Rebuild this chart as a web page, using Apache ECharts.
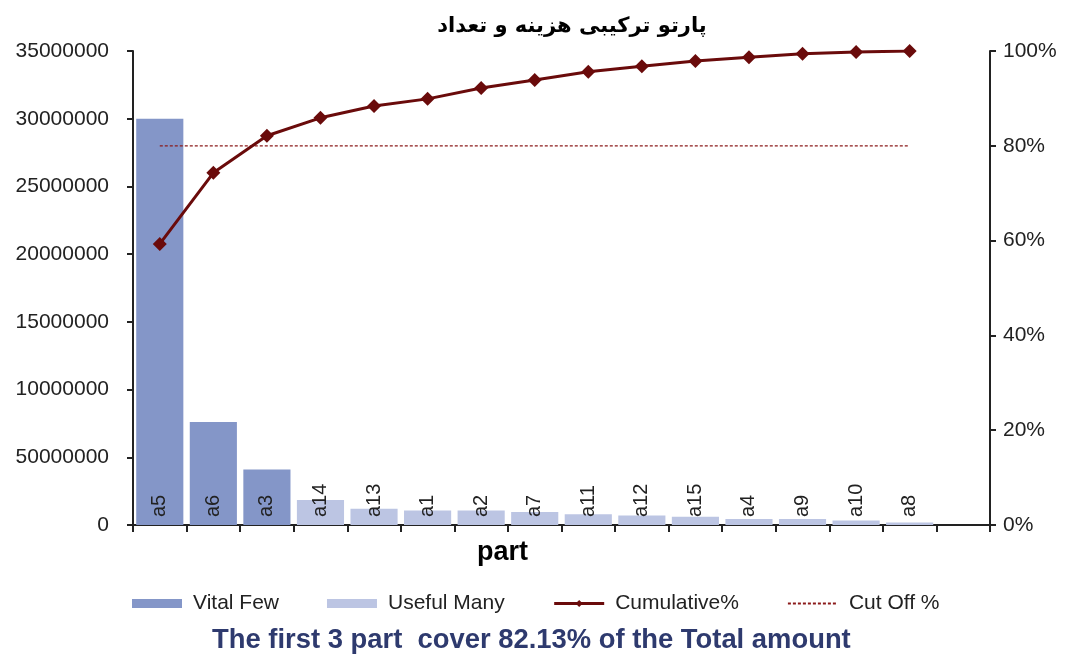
<!DOCTYPE html>
<html>
<head>
<meta charset="utf-8">
<script src="https://cdn.jsdelivr.net/npm/echarts@6/dist/echarts.min.js"></script>
<style>
html,body{margin:0;padding:0;background:#fff;}
#c{width:1071px;height:655px;}
</style>
</head>
<body>
<div id="c"></div>
<script>
// ---- data ----
const categories = ['a5','a6','a3','a14','a13','a1','a2','a7','a11','a12','a15','a4','a9','a10','a8',''];
const vitalFew   = [30000000, 7600000, 4100000, null, null, null, null, null, null, null, null, null, null, null, null, null];
const usefulMany = [null, null, null, 1850000, 1200000, 1070000, 1070000, 960000, 800000, 700000, 600000, 450000, 450000, 330000, 180000, null];
const cumulative = [0.593, 0.743, 0.8213, 0.859, 0.884, 0.899, 0.922, 0.939, 0.956, 0.968, 0.979, 0.987, 0.994, 0.998, 1.0, null];
const cutOff     = [0.8, 0.8, 0.8, 0.8, 0.8, 0.8, 0.8, 0.8, 0.8, 0.8, 0.8, 0.8, 0.8, 0.8, 0.8, null];
const leftTickLabels  = ['0','50000000','10000000','15000000','20000000','25000000','30000000','35000000'];
const rightTickLabels = ['0%','20%','40%','60%','80%','100%'];
const titleText = 'پارتو ترکیبی هزینه و تعداد';
const footerText = 'The first 3 part  cover 82.13% of the Total amount';
const xName = 'part';

const FONT = '"Liberation Sans", Arial, sans-serif';
const chart = echarts.init(document.getElementById('c'), null, {renderer:'canvas'});

const barLabel = {
  show: true, position: 'insideBottom', rotate: 90, align: 'left', verticalAlign: 'middle',
  distance: 8, formatter: '{b}', color: '#222', fontSize: 20, fontFamily: FONT
};

chart.setOption({
  animation: false,
  backgroundColor: '#fff',
  title: {
    text: titleText, left: 567, top: 11, textAlign: 'center',
    textStyle: {fontFamily: '"DejaVu Sans", sans-serif', fontWeight: 'bold', fontSize: 21, color: '#000'}
  },
  graphic: [
    {type: 'text', left: 477, top: 539, style: {text: xName, font: 'bold 27px ' + FONT, fill: '#000'}},
    {type: 'text', left: 212, top: 627, style: {text: footerText, font: 'bold 27.4px ' + FONT, fill: '#2E3A6E'}}
  ],
  legend: {
    left: 127, top: 588, itemWidth: 50, itemHeight: 9, itemGap: 48,
    textStyle: {fontSize: 21, color: '#222', fontFamily: FONT, padding: [0,0,0,6]},
    data: [
      {name: 'Vital Few', icon: 'rect'},
      {name: 'Useful Many', icon: 'rect'},
      {name: 'Cumulative%', lineStyle: {width: 3}},
      {name: 'Cut Off %', itemStyle: {color: 'rgba(0,0,0,0)', borderWidth: 0, opacity: 0}}
    ]
  },
  grid: {left: 133, right: 81, top: 51, bottom: 130},
  xAxis: {
    type: 'category', data: categories, boundaryGap: true,
    axisLine: {lineStyle: {color: '#222', width: 2}},
    axisTick: {show: true, interval: 0, length: 7, lineStyle: {color: '#222', width: 2}},
    axisLabel: {show: false}
  },
  yAxis: [
    {
      type: 'value', min: 0, max: 35000000, interval: 5000000,
      splitLine: {show: false},
      axisLine: {show: true, lineStyle: {color: '#222', width: 2}},
      axisTick: {show: true, length: 6, lineStyle: {color: '#222', width: 2}},
      axisLabel: {margin: 24, fontSize: 21, color: '#222', fontFamily: FONT,
        formatter: v => leftTickLabels[Math.round(v / 5000000)]}
    },
    {
      type: 'value', min: 0, max: 1, interval: 0.2,
      splitLine: {show: false},
      axisLine: {show: true, lineStyle: {color: '#222', width: 2}},
      axisTick: {show: true, length: 6, lineStyle: {color: '#222', width: 2}},
      axisLabel: {margin: 13, fontSize: 21, color: '#222', fontFamily: FONT,
        formatter: v => rightTickLabels[Math.round(v / 0.2)]}
    }
  ],
  series: [
    {name: 'Vital Few', type: 'bar', stack: 'b', data: vitalFew, barCategoryGap: '12%',
      itemStyle: {color: '#8496C8'}, label: barLabel},
    {name: 'Useful Many', type: 'bar', stack: 'b', data: usefulMany, barCategoryGap: '12%',
      itemStyle: {color: '#BCC5E3'}, label: barLabel},
    {name: 'Cumulative%', type: 'line', yAxisIndex: 1, data: cumulative,
      symbol: 'diamond', symbolSize: 14, lineStyle: {color: '#6A0B0B', width: 3},
      itemStyle: {color: '#6A0B0B'}, z: 5},
    {name: 'Cut Off %', type: 'line', yAxisIndex: 1, data: cutOff, symbol: 'none',
      lineStyle: {color: '#8B1A1A', width: 1.3, type: [3, 2]}, itemStyle: {color: '#8B1A1A'}, z: 4}
  ]
});
</script>
</body>
</html>
